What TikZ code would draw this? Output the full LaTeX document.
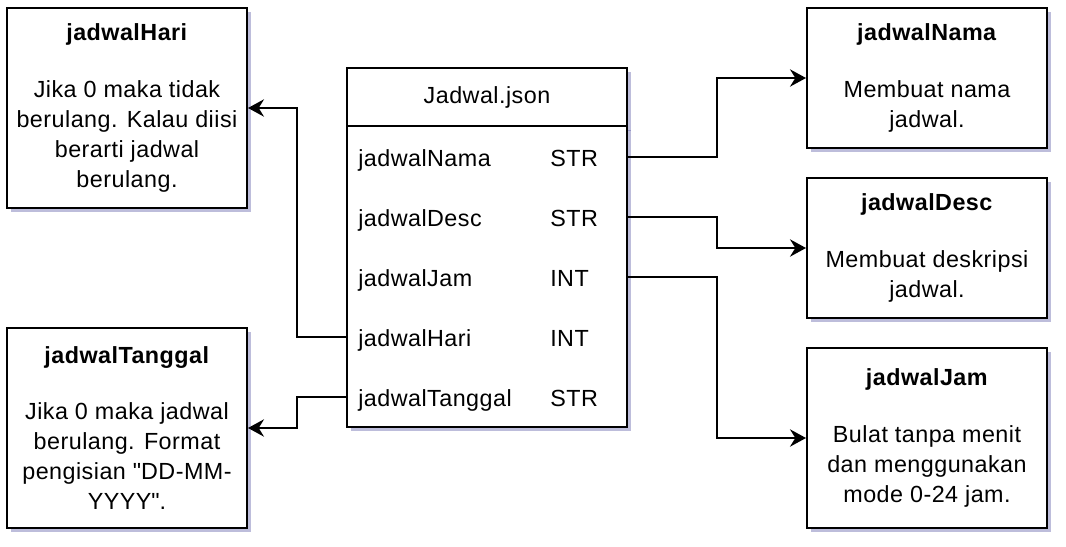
\documentclass[tikz,border=0pt]{standalone}
\usepackage{fontspec}
\setmainfont{Liberation Sans}[LetterSpace=2]
\usetikzlibrary{shadows, arrows.meta}

\begin{document}
\begin{tikzpicture}[
          x=0.75pt, y=-0.75pt,
          font=\fontsize{17.5}{22.5}\selectfont,
          box/.style={draw, line width=1.5pt, fill=white, minimum width=180pt, align=center, inner sep=0pt,
            drop shadow={shadow xshift=3pt, shadow yshift=-3pt, fill=blue!30!gray, opacity=0.4}},
          row/.style={minimum width=210pt, minimum height=45pt, inner sep=0pt},
          field/.style={anchor=base west, inner sep=0pt},
          conn/.style={-{Stealth[length=12pt, width=13pt, inset=4pt]}, line width=1.5pt},
        ]
          \useasboundingbox (0,0) rectangle (1066,546);
          \node[box, minimum height=150pt] (hari) at (127,108) {\textbf{jadwalHari}\\[20pt]Jika 0 maka tidak\\berulang. Kalau diisi\\berarti jadwal\\berulang.};
          \node[box, minimum height=150pt] (tanggal) at (127,428) {\textbf{jadwalTanggal}\\[20pt]Jika 0 maka jadwal\\berulang. Format\\pengisian \textquotedbl DD-MM-\\YYYY\textquotedbl.};
          \node[box, minimum height=105pt] (nama) at (927,78) {\textbf{jadwalNama}\\[20pt]Membuat nama\\jadwal.};
          \node[box, minimum height=105pt] (desc) at (927,248) {\textbf{jadwalDesc}\\[20pt]Membuat deskripsi\\jadwal.};
          \node[box, minimum height=135pt] (jam) at (927,438) {\textbf{jadwalJam}\\[20pt]Bulat tanpa menit\\dan menggunakan\\mode 0-24 jam.};
          \node[box, minimum width=210pt, minimum height=44.25pt] (head) at (487,97.5) {Jadwal.json};
          \node[box, minimum width=210pt, minimum height=225.75pt] (body) at (487,276.5) {};
          \node[row] (rNama) at (487,157) {};
          \node[row] (rDesc) at (487,217) {};
          \node[row] (rJam) at (487,277) {};
          \node[row] (rHari) at (487,337) {};
          \node[row] (rTanggal) at (487,397) {};
          \node[field] (nNama) at (358,166) {jadwalNama};
          \node[field] (tNama) at (550,166) {STR};
          \node[field] (nDesc) at (358,226) {jadwalDesc};
          \node[field] (tDesc) at (550,226) {STR};
          \node[field] (nJam) at (358,286) {jadwalJam};
          \node[field] (tJam) at (550,286) {INT};
          \node[field] (nHari) at (358,346) {jadwalHari};
          \node[field] (tHari) at (550,346) {INT};
          \node[field] (nTanggal) at (358,406) {jadwalTanggal};
          \node[field] (tTanggal) at (550,406) {STR};
          \draw[conn] (rNama.east) -- ++(90,0) |- (nama);
          \draw[conn] (rDesc.east) -- ++(90,0) |- (desc);
          \draw[conn] (rJam.east) -- ++(90,0) |- (jam);
          \draw[conn] (rHari.west) -- ++(-50,0) |- (hari);
          \draw[conn] (rTanggal.west) -- ++(-50,0) |- (tanggal);
        \end{tikzpicture}
\end{document}
